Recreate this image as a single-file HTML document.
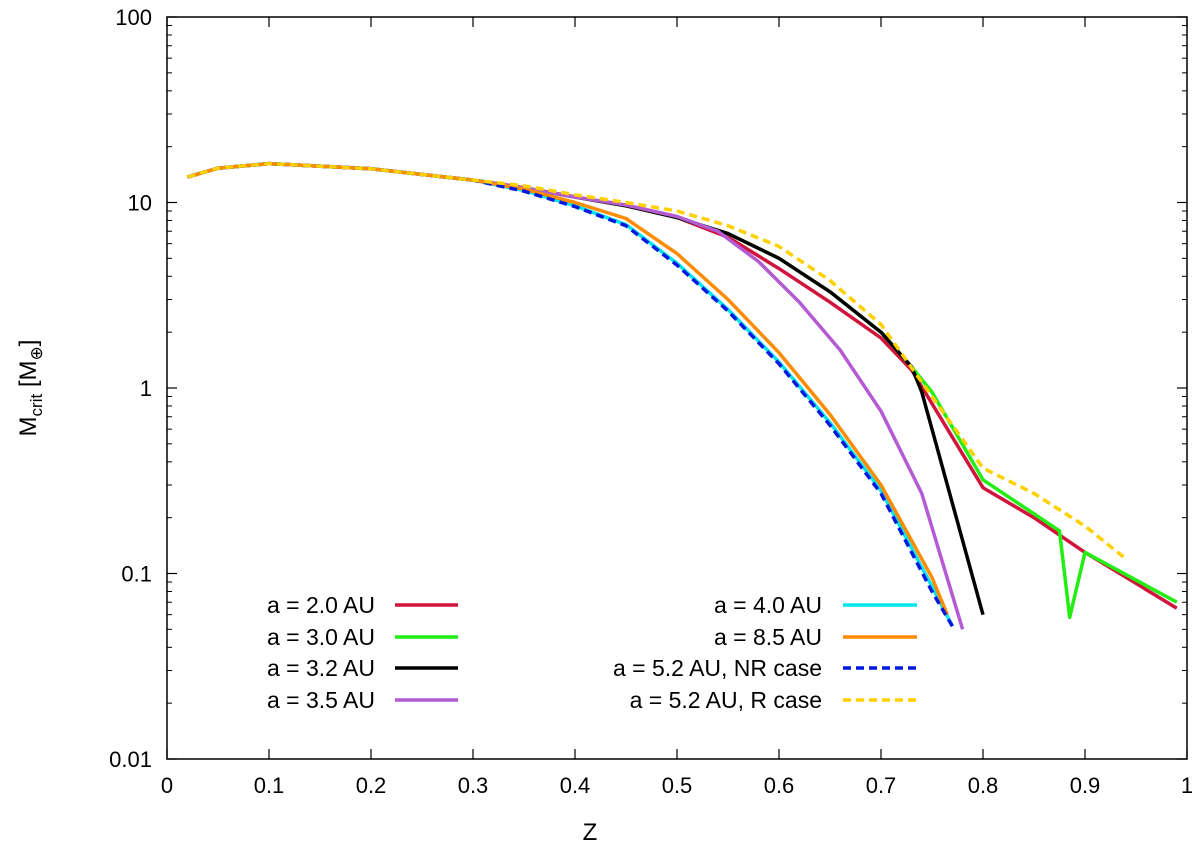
<!DOCTYPE html>
<html><head><meta charset="utf-8"><style>
body{margin:0;background:#fff}
text{font-family:"Liberation Sans","DejaVu Sans",sans-serif;fill:#000}
</style></head><body>
<svg id="chart" width="1200" height="849" xmlns="http://www.w3.org/2000/svg"></svg>
<script>
const xTicks=[0,0.1,0.2,0.3,0.4,0.5,0.6,0.7,0.8,0.9,1];
const xTickLabels=["0","0.1","0.2","0.3","0.4","0.5","0.6","0.7","0.8","0.9","1"];
const yTicks=[0.01,0.1,1,10,100];
const yTickLabels=["0.01","0.1","1","10","100"];
const zCommon=[0.02,0.05,0.1,0.2,0.3];
const mCommon=[13.7,15.3,16.2,15.2,13.2];
const zRed=[0.35,0.4,0.45,0.5,0.55,0.6,0.65,0.7,0.73,0.8,0.85,0.9,0.99];
const mRed=[12,10.7,9.6,8.3,6.5,4.4,2.9,1.86,1.25,0.29,0.2,0.13,0.065];
const zGreen=[0.35,0.4,0.45,0.5,0.55,0.6,0.65,0.7,0.73,0.75,0.8,0.875,0.885,0.9,0.99];
const mGreen=[12,10.7,9.6,8.3,6.8,5.0,3.3,2.0,1.3,0.95,0.32,0.17,0.058,0.13,0.07];
const zBlack=[0.35,0.4,0.45,0.5,0.55,0.6,0.65,0.7,0.73,0.74,0.75,0.8];
const mBlack=[12,10.7,9.6,8.3,6.8,5.0,3.3,2.0,1.3,0.95,0.6,0.06];
const zPurple=[0.35,0.4,0.45,0.5,0.54,0.58,0.62,0.66,0.7,0.74,0.78];
const mPurple=[12,10.7,9.7,8.4,7.0,4.8,2.9,1.6,0.75,0.27,0.05];
const zCyan=[0.35,0.4,0.45,0.5,0.55,0.6,0.65,0.7,0.75,0.77];
const mCyan=[11.6,9.6,7.6,4.7,2.65,1.38,0.65,0.28,0.085,0.052];
const zOrange=[0.35,0.4,0.45,0.5,0.55,0.6,0.65,0.7,0.75,0.765];
const mOrange=[11.8,10.0,8.2,5.3,3.0,1.55,0.72,0.30,0.095,0.06];
const zBlue=[0.35,0.4,0.45,0.5,0.55,0.6,0.65,0.7,0.75,0.77];
const mBlue=[11.5,9.5,7.5,4.6,2.6,1.35,0.63,0.27,0.08,0.052];
const zYellow=[0.35,0.4,0.45,0.5,0.55,0.6,0.65,0.7,0.75,0.8,0.85,0.9,0.94];
const mYellow=[12.3,11,10,9,7.5,5.8,3.8,2.2,0.9,0.37,0.27,0.18,0.12];

const NS="http://www.w3.org/2000/svg";
const svg=document.getElementById('chart');
const X0=167,X1=1187,Y0=759,Y1=17;
const xs=z=>X0+z*(X1-X0);
const ys=v=>Y0-(Math.log10(v)+2)/4*(Y0-Y1);
function mk(t,a,p){const e=document.createElementNS(NS,t);for(const k in a)e.setAttribute(k,a[k]);(p||svg).appendChild(e);return e;}

const frame=mk('rect',{x:X0,y:Y1,width:X1-X0,height:Y0-Y1,fill:'none',stroke:'#000','stroke-width':1.5});


xTicks.forEach((t,i)=>{
  const x=xs(t);
  mk('line',{x1:x,x2:x,y1:Y0,y2:Y0-10,stroke:'#000','stroke-width':1.2});
  mk('line',{x1:x,x2:x,y1:Y1,y2:Y1+10,stroke:'#000','stroke-width':1.2});
  const tx=mk('text',{x:x,y:Y0+34,'text-anchor':'middle','font-size':22});
  tx.textContent=xTickLabels[i];
  
  
});
yTicks.forEach((t,i)=>{
  const y=ys(t);
  mk('line',{x1:X0,x2:X0+10,y1:y,y2:y,stroke:'#000','stroke-width':1.2});
  mk('line',{x1:X1,x2:X1-10,y1:y,y2:y,stroke:'#000','stroke-width':1.2});
  if(i<yTicks.length-1){for(let m=2;m<10;m++){const yy=ys(t*m);
    mk('line',{x1:X0,x2:X0+5,y1:yy,y2:yy,stroke:'#000','stroke-width':1});
    mk('line',{x1:X1,x2:X1-5,y1:yy,y2:yy,stroke:'#000','stroke-width':1});}}
  const tx=mk('text',{x:X0-15,y:y+8,'text-anchor':'end','font-size':22});
  tx.textContent=yTickLabels[i];
  
  
});
const xl=mk('text',{x:590,y:840,'text-anchor':'middle','font-size':24});
xl.textContent='Z';


const yl=mk('text',{transform:'translate(36,388) rotate(-90)','text-anchor':'middle','font-size':24});
yl.innerHTML='M<tspan font-size="17" dy="6">crit</tspan><tspan dy="-6"> [M</tspan><tspan font-size="17" dy="6">⊕</tspan><tspan dy="-6">]</tspan>';



const series=[
 ['series-a2.0',zRed,mRed,'#d0143c',null],
 ['series-a3.0',zGreen,mGreen,'#22ee11',null],
 ['series-a3.2',zBlack,mBlack,'#000',null],
 ['series-a3.5',zPurple,mPurple,'#b45ad2',null],
 ['series-a4.0',zCyan,mCyan,'#00e5ee',null],
 ['series-a8.5',zOrange,mOrange,'#ff8c00',null],
 ['series-a5.2-nr',zBlue,mBlue,'#0018e0','8,5'],
 ['series-a5.2-r',zYellow,mYellow,'#ffd000','8,5'],
];
series.forEach(s=>{
  const z=zCommon.concat(s[1]),m=mCommon.concat(s[2]);
  const d=z.map((v,i)=>(i?'L':'M')+xs(v).toFixed(1)+','+ys(m[i]).toFixed(1)).join('');
  const a={d:d,fill:'none',stroke:s[3],'stroke-width':3.5,'stroke-linejoin':'round'};
  if(s[4])a['stroke-dasharray']=s[4];
  const p=mk('path',a);
  
  
});
const leg=[
 ['a = 2.0 AU',375,395,458,605,0],['a = 3.0 AU',375,395,458,637,1],['a = 3.2 AU',375,395,458,668,2],['a = 3.5 AU',375,395,458,700,3],
 ['a = 4.0 AU',822,843,917,605,4],['a = 8.5 AU',822,843,917,637,5],['a = 5.2 AU, NR case',822,843,917,668,6],['a = 5.2 AU, R case',822,843,917,700,7]];
leg.forEach(l=>{
  const s=series[l[5]];
  const g=mk('g',{});
  
  
  const t=mk('text',{x:l[1],y:l[4]+8,'text-anchor':'end','font-size':23},g);t.textContent=l[0];
  const a={x1:l[2],x2:l[3],y1:l[4],y2:l[4],stroke:s[3],'stroke-width':3.5};
  if(s[4])a['stroke-dasharray']=s[4];
  mk('line',a,g);
});
</script>
</body></html>
